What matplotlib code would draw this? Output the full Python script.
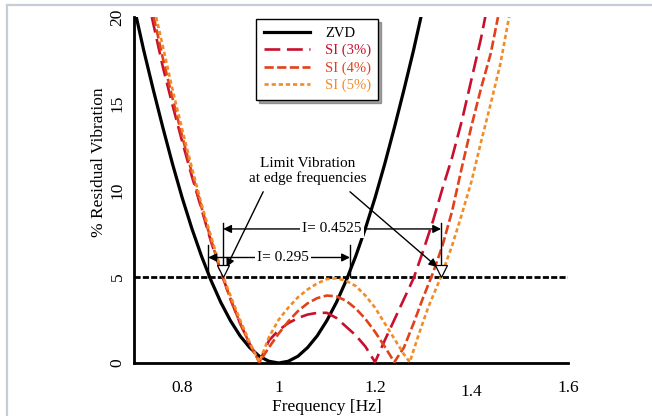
import matplotlib
matplotlib.use("Agg")
import matplotlib.pyplot as plt
from matplotlib.lines import Line2D

plt.rcParams['font.family'] = ['Liberation Serif', 'DejaVu Serif']

# frequency [Hz] vs % residual vibration
zvd_f = [0.70, 0.72, 0.74, 0.76, 0.78, 0.80, 0.82, 0.84, 0.86, 0.88, 0.90, 0.92, 0.94, 0.96, 0.98,
         1.00, 1.02, 1.04, 1.06, 1.08, 1.10, 1.12, 1.14, 1.16, 1.18, 1.20, 1.22, 1.24, 1.26, 1.28, 1.30]
zvd_v = [20.6, 18.1, 15.8, 13.6, 11.5, 9.55, 7.78, 6.18, 4.76, 3.51, 2.45, 1.57, 0.89, 0.39, 0.10,
         0.0, 0.10, 0.39, 0.89, 1.57, 2.45, 3.51, 4.76, 6.18, 7.78, 9.55, 11.5, 13.6, 15.8, 18.1, 20.6]

si3_f = [0.737, 0.76, 0.78, 0.80, 0.82, 0.84, 0.86, 0.88, 0.90, 0.92, 0.94, 0.96, 0.98, 1.00, 1.02,
         1.04, 1.06, 1.08, 1.10, 1.12, 1.14, 1.16, 1.18, 1.20, 1.22, 1.24, 1.26, 1.28, 1.30, 1.32,
         1.34, 1.36, 1.38, 1.40, 1.42, 1.43]
si3_v = [20.0, 17.1, 14.9, 12.8, 10.8, 8.9, 7.0, 5.3, 3.7, 2.3, 1.1, 0.05, 1.3, 1.9, 2.3,
         2.6, 2.8, 2.9, 2.9, 2.6, 2.1, 1.6, 0.95, 0.05, 1.3, 2.5, 3.7, 4.9, 6.5, 8.2,
         10.1, 11.9, 14.0, 16.4, 18.8, 20.2]

si4_f = [0.741, 0.76, 0.78, 0.80, 0.82, 0.84, 0.86, 0.88, 0.90, 0.92, 0.94, 0.96, 0.98, 1.00, 1.02,
         1.04, 1.06, 1.08, 1.10, 1.12, 1.14, 1.16, 1.18, 1.20, 1.22, 1.24, 1.26, 1.28, 1.30, 1.32,
         1.34, 1.36, 1.38, 1.40, 1.42, 1.44, 1.455]
si4_v = [20.0, 17.6, 15.3, 13.1, 11.0, 9.0, 7.1, 5.3, 3.7, 2.3, 1.1, 0.05, 0.9, 1.7, 2.4,
         3.0, 3.45, 3.75, 3.9, 3.85, 3.6, 3.15, 2.55, 1.8, 0.95, 0.05, 0.9, 2.3, 3.8, 5.2,
         6.8, 8.8, 11.3, 13.7, 15.9, 17.9, 20.0]

si5_f = [0.746, 0.76, 0.78, 0.80, 0.82, 0.84, 0.86, 0.885, 0.90, 0.92, 0.94, 0.96, 0.98, 1.00, 1.02,
         1.04, 1.06, 1.08, 1.10, 1.12, 1.14, 1.16, 1.18, 1.20, 1.22, 1.24, 1.26, 1.272, 1.29, 1.31,
         1.337, 1.36, 1.38, 1.40, 1.42, 1.44, 1.46, 1.478]
si5_v = [20.0, 18.3, 15.8, 13.5, 11.3, 9.2, 7.3, 5.0, 3.9, 2.5, 1.2, 0.05, 1.5, 2.5, 3.2,
         3.8, 4.25, 4.6, 4.85, 4.9, 4.75, 4.45, 3.9, 3.2, 2.3, 1.4, 0.5, 0.05, 1.6, 3.2,
         5.0, 6.8, 8.6, 10.5, 12.8, 15.0, 17.3, 20.0]

limit = 5
zvd_edges = [0.854, 1.148]   # I = 0.295
si_edges = [0.885, 1.337]    # I = 0.4525

labels = ['ZVD', 'SI (3%)', 'SI (4%)', 'SI (5%)']
colors = ['black', '#c8102e', '#e0431b', '#f28c28']
dashes = [None, (6, 2.5), (3.5, 1.3), (1.6, 1.1)]

fig = plt.figure(figsize=(6.52, 4.16), dpi=100)
ax = fig.add_axes([0.2055, 0.1274, 0.6655, 0.8316])

# light frame around the figure
fig.add_artist(Line2D([0.011, 1.0], [0.988, 0.988], color='#c5ced6', lw=1.6, transform=fig.transFigure))
fig.add_artist(Line2D([0.011, 0.011], [0.0, 0.988], color='#c5ced6', lw=1.6, transform=fig.transFigure))

ax.axhline(limit, color='black', lw=2.0, ls=(0, (2.2, 0.8)), zorder=1)

series = [(zvd_f, zvd_v), (si3_f, si3_v), (si4_f, si4_v), (si5_f, si5_v)]
handles = []
for (f, v), lab, c, d in zip(series, labels, colors, dashes):
    if d is None:
        ln, = ax.plot(f, v, color=c, lw=2.3, label=lab, zorder=3)
    else:
        ln, = ax.plot(f, v, color=c, lw=1.9, dashes=d, label=lab, zorder=3)
    handles.append(ln)

# brackets
y_big, y_small = 7.75, 6.1
for e in si_edges:
    ax.plot([e, e], [5.3, 8.1], color='black', lw=1.0, zorder=4)
for e in zvd_edges:
    ax.plot([e, e], [limit, 6.8], color='black', lw=1.0, zorder=4)
ax.annotate('', xy=(si_edges[0], y_big), xytext=(si_edges[1], y_big),
            arrowprops=dict(arrowstyle='<|-|>', color='black', lw=1.0, shrinkA=0, shrinkB=0,
                            mutation_scale=12), zorder=4)
ax.annotate('', xy=(zvd_edges[0], y_small), xytext=(zvd_edges[1], y_small),
            arrowprops=dict(arrowstyle='<|-|>', color='black', lw=1.0, shrinkA=0, shrinkB=0,
                            mutation_scale=12), zorder=4)
ax.text(1.111, y_big, 'I= 0.4525', ha='center', va='center', fontsize=11, zorder=5,
        bbox=dict(facecolor='white', edgecolor='none', pad=1.5))
ax.text(1.009, y_small, 'I= 0.295', ha='center', va='center', fontsize=11, zorder=5,
        bbox=dict(facecolor='white', edgecolor='none', pad=1.5))

# limit markers
ax.plot(si_edges, [5.3, 5.3], ls='none', marker='v', markersize=9, markerfacecolor='white',
        markeredgecolor='black', markeredgewidth=0.9, zorder=6)

ax.text(1.061, 11.1, 'Limit Vibration\nat edge frequencies', ha='center', va='center',
        fontsize=11, linespacing=1.2)
for tx, tip in [(0.968, 0.892), (1.148, 1.329)]:
    ax.annotate('', xy=(tip, 5.55), xytext=(tx, 9.9),
                arrowprops=dict(arrowstyle='-|>', color='black', lw=1.0, shrinkA=0, shrinkB=0,
                                mutation_scale=12))

ax.set_xlim(0.7, 1.6)
ax.set_ylim(0, 20)
ax.set_xticks([0.8, 1.0, 1.2, 1.4, 1.6])
ax.set_xticklabels(['0.8', '1', '1.2', '1.4', '1.6'])
ax.set_yticks([0, 5, 10, 15, 20])
ax.tick_params(axis='both', length=0, labelsize=12.5)
ax.tick_params(axis='x', pad=12)
ax.tick_params(axis='y', pad=6)
for t in ax.get_yticklabels():
    t.set_rotation(90)
    t.set_va('center')
ax.get_xticklabels()[3].set_y(-0.012)

for s in ['top', 'right']:
    ax.spines[s].set_visible(False)
for s in ['left', 'bottom']:
    ax.spines[s].set_linewidth(2.0)

ax.set_xlabel('Frequency [Hz]', fontsize=12.5)
ax.xaxis.set_label_coords(0.445, -0.104)
ax.set_ylabel('% Residual Vibration', fontsize=12.5)
ax.yaxis.set_label_coords(-0.062, 0.58)

leg = ax.legend(handles=handles, loc='upper left', bbox_to_anchor=(249 / 652, 1 - 12 / 416),
                bbox_transform=fig.transFigure, fontsize=10.5, frameon=True, fancybox=False,
                shadow=True, handlelength=3.2, labelspacing=0.28, borderpad=0.5,
                handletextpad=1.0)
leg.get_frame().set_edgecolor('black')
leg.get_frame().set_linewidth(1.0)
for txt, c in zip(leg.get_texts(), colors):
    txt.set_color(c)

fig.savefig('out.png', dpi=100)
